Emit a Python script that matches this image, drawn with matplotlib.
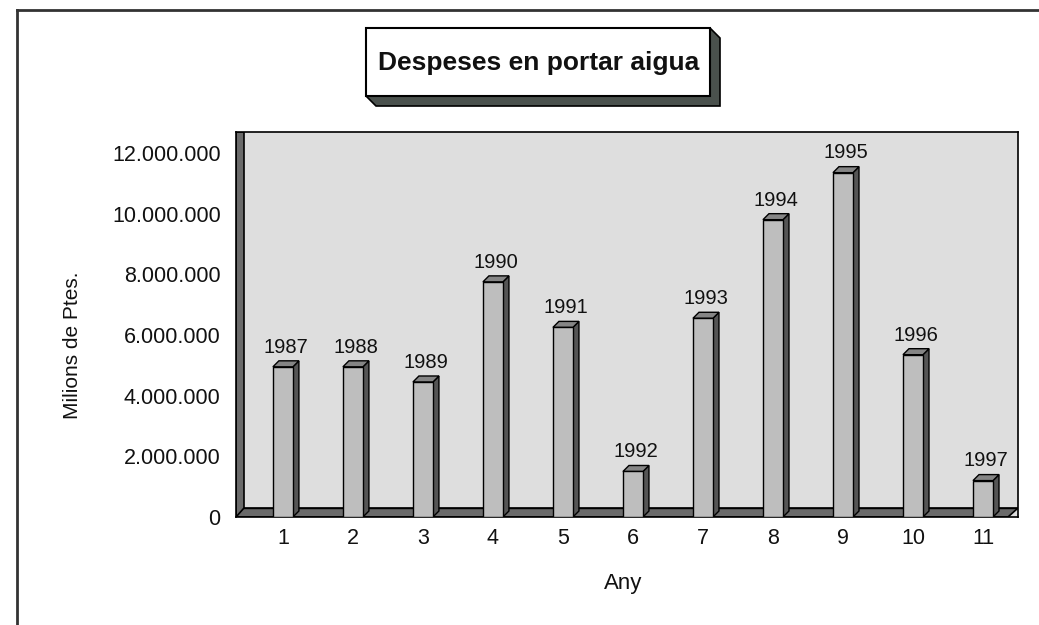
import matplotlib
matplotlib.use("Agg")
import matplotlib.pyplot as plt
from matplotlib.patches import Polygon, Rectangle
from matplotlib.lines import Line2D
from matplotlib.ticker import FuncFormatter

plt.rcParams['font.family'] = ['Liberation Sans', 'DejaVu Sans']

# ---- data ----
categories = [1, 2, 3, 4, 5, 6, 7, 8, 9, 10, 11]
years = ["1987", "1988", "1989", "1990", "1991", "1992", "1993", "1994", "1995", "1996", "1997"]
values = [4950000, 4950000, 4450000, 7750000, 6250000, 1500000, 6550000, 9800000, 11350000, 5350000, 1200000]
yticks = [0, 2000000, 4000000, 6000000, 8000000, 10000000, 12000000]
title = "Despeses en portar aigua"
xlabel = "Any"
ylabel = "Milions de Ptes."

W, H = 1039, 625
fig = plt.figure(figsize=(W / 100, H / 100), dpi=100)
fig.patch.set_facecolor("white")

# axes placement (pixels)
L, R, T, B = 236, 1018, 132, 517
ax = fig.add_axes([L / W, (H - B) / H, (R - L) / W, (B - T) / H])
xmin, xmax = 0.33, 11.5
ymin, ymax = 0, 12690000
ax.set_xlim(xmin, xmax)
ax.set_ylim(ymin, ymax)
ax.set_facecolor("#dedede")

pxx = (xmax - xmin) / (R - L)   # data per pixel in x
pxy = (ymax - ymin) / (B - T)   # data per pixel in y

# walls (3D look)
floor_h = 9 * pxy
wall_w = 8 * pxx
depth_x = 10 * pxx
ax.add_patch(Polygon([(xmin, 0), (xmax - depth_x, 0), (xmax, floor_h), (xmin, floor_h)],
                     closed=True, facecolor="#6a6a6a", edgecolor="black", lw=1.2, zorder=1))
ax.add_patch(Polygon([(xmin, 0), (xmin + wall_w, floor_h), (xmin + wall_w, ymax), (xmin, ymax)],
                     closed=True, facecolor="#6a6a6a", edgecolor="black", lw=1.2, zorder=1))
ax.plot([xmin + wall_w, xmax], [floor_h, floor_h], color="black", lw=1, zorder=1.5)

# 3D bars
bw = 20 * pxx
dx = 6 * pxx
dy = 6 * pxy
for x, v, yr in zip(categories, values, years):
    x0, x1 = x - bw / 2, x + bw / 2
    ax.add_patch(Polygon([(x1, 0), (x1 + dx, dy), (x1 + dx, v + dy), (x1, v)], closed=True,
                         facecolor="#555555", edgecolor="black", lw=1, zorder=3))
    ax.add_patch(Polygon([(x0, v), (x0 + dx, v + dy), (x1 + dx, v + dy), (x1, v)], closed=True,
                         facecolor="#858585", edgecolor="black", lw=1, zorder=3))
    ax.add_patch(Rectangle((x0, 0), bw, v, facecolor="#bebebe", edgecolor="black", lw=1, zorder=4))
    ax.annotate(yr, (x + dx / 2, v + dy), xytext=(0, 3), textcoords="offset points",
                ha="center", va="bottom", fontsize=14.5, color="#111111", zorder=5)

ax.set_xticks(categories)
ax.set_xticklabels([str(c) for c in categories])
ax.set_yticks(yticks)
ax.yaxis.set_major_formatter(FuncFormatter(lambda v, p: f"{int(v):,}".replace(",", ".")))
ax.tick_params(axis="both", length=0, labelsize=15.5, colors="#111111")
ax.tick_params(axis="y", pad=11)
ax.tick_params(axis="x", pad=8)
for s in ax.spines.values():
    s.set_color("black")
    s.set_linewidth(1.2)

fig.text(623 / W, 1 - 583 / H, xlabel, ha="center", va="center", fontsize=16, color="#111111")
fig.text(73 / W, 1 - 345 / H, ylabel, ha="center", va="center", rotation=90, fontsize=15, color="#111111")

# title box with 3D shadow (figure pixels)
def fx(px):
    return px / W

def fy(py):
    return 1 - py / H

bl, br, bt, bb = 366, 710, 28, 96
sd = 10
fig.patches.append(Polygon([(fx(br), fy(bt)), (fx(br + sd), fy(bt + sd)), (fx(br + sd), fy(bb + sd)),
                            (fx(bl + sd), fy(bb + sd)), (fx(bl), fy(bb))], closed=True,
                           transform=fig.transFigure, facecolor="#4a514d", edgecolor="black", lw=1.2))
fig.patches.append(Rectangle((fx(bl), fy(bb)), fx(br) - fx(bl), fy(bt) - fy(bb),
                             transform=fig.transFigure, facecolor="white", edgecolor="black", lw=1.5))
fig.text(fx(539), fy(63), title, ha="center", va="center", fontsize=19,
         fontweight="bold", color="#111111")

# outer frame
fig.add_artist(Line2D([fx(17), fx(17)], [fy(10), fy(H + 5)], transform=fig.transFigure,
                      color="#333333", lw=2))
fig.add_artist(Line2D([fx(17), fx(W + 5)], [fy(10), fy(10)], transform=fig.transFigure,
                      color="#333333", lw=2))

fig.savefig("out.png", dpi=100)
